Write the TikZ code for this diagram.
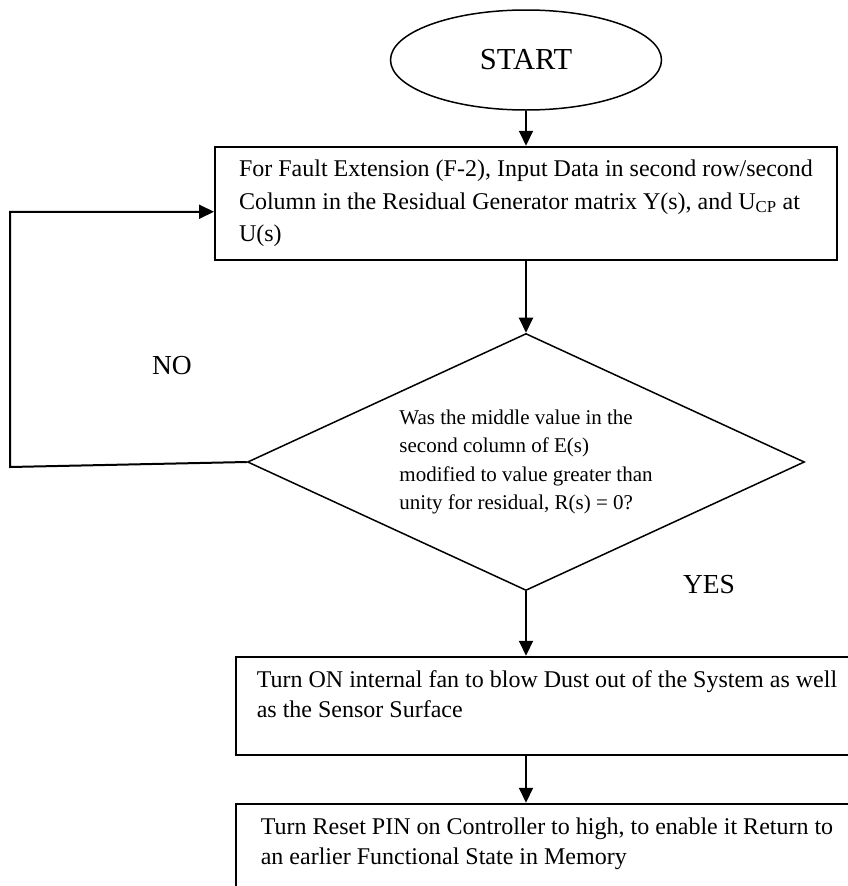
\documentclass[tikz,border=0pt]{standalone}
\usepackage{fontspec}
\setmainfont{Liberation Serif}
\usetikzlibrary{shapes.geometric,arrows.meta,positioning}
\newcommand{\lowstrut}{\rule[-23pt]{0pt}{0pt}}
\tikzset{
  basebox/.style={rectangle,draw=black,line width=2pt,align=left,
                  inner sep=0pt},
  stepbox/.style={basebox,minimum width=622pt,minimum height=113pt,
                  font=\fontsize{24}{32.5}\selectfont},
  actbox/.style={basebox,minimum width=622pt,minimum height=98pt,
                 font=\fontsize{24}{30.5}\selectfont},
  startnode/.style={ellipse,draw=black,line width=1.5pt,
                    minimum width=271pt,minimum height=100pt,
                    font=\fontsize{30.5}{36}\selectfont},
  decnode/.style={diamond,draw=black,line width=1.5pt,aspect=2.17,
                  minimum width=557pt,minimum height=257pt,inner sep=0pt,
                  align=left,font=\fontsize{21}{28.5}\selectfont},
  lbl/.style={font=\fontsize{27.5}{33}\selectfont},
  arr/.style={-{Triangle[length=15pt,width=14pt]},line width=2pt}
}
\begin{document}
\begin{tikzpicture}[x=1pt,y=-1pt]
  \useasboundingbox (0,0) rectangle (848,886);
  \clip (0,0) rectangle (848,886);

  \node[startnode] (start) at (526,60) {START};

  \node[stepbox,below=35pt of start] (input)
      {For Fault Extension (F-2), Input Data in second row/second\\
       Column in the Residual Generator matrix Y(s), and U\textsubscript{CP} at\\
       U(s)};

  \node[decnode,below=72pt of input] (check)
      {Was the middle value in the\\
       second column of E(s)\\
       modified to value greater than\\
       unity for residual, R(s) = 0?};

  \node[actbox,below=64.5pt of check,xshift=21pt] (fan)
      {Turn ON internal fan to blow Dust out of the System as well\\
       as the Sensor Surface\lowstrut};

  \node[actbox,below=47pt of fan] (reset)
      {Turn Reset PIN on Controller to high, to enable it Return to\\
       an earlier Functional State in Memory\lowstrut};

  \node[lbl] (no) at (172,366) {NO};
  \node[lbl] (yes) at (709,585) {YES};

  \coordinate (back) at (10,467);

  \draw[arr] (start) -- (input);
  \draw[arr] (input) -- (check);
  \draw[arr] (check) -- (check |- fan.north);
  \draw[arr] (fan.south -| check) -- (check |- reset.north);
  \draw[arr] (check.west) -- (back) |- ([yshift=-8.5pt]input.west);

\end{tikzpicture}
\end{document}
